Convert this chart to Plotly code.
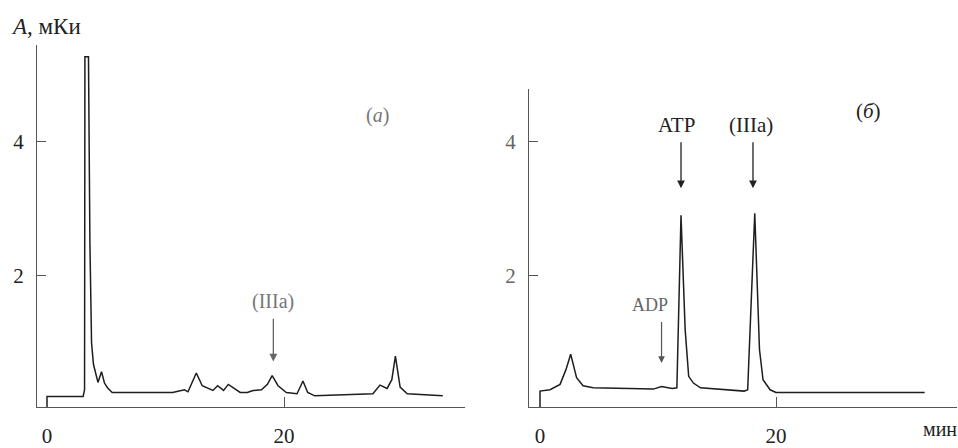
import plotly.graph_objects as go

# ---- data ----
# Panel (а): time, min / activity, mCi
t_a = [0, 0, 3.05, 3.17, 3.2, 3.5, 3.62, 3.76, 3.92, 4.3, 4.6, 4.85, 5.1, 5.5,
       10.6, 11.0, 11.6, 11.9, 12.6, 13.1, 13.5, 14.0, 14.4, 14.9, 15.3, 16.3,
       16.9, 17.4, 18.1, 18.6, 19.0, 19.5, 20.2, 21.1, 21.6, 22.0, 22.6, 27.5,
       28.1, 28.7, 29.1, 29.4, 29.8, 30.4, 33.4]
v_a = [0.04, 0.2, 0.2, 0.3, 5.26, 5.26, 2.5, 1.0, 0.68, 0.41, 0.57, 0.4, 0.33, 0.26,
       0.26, 0.28, 0.3, 0.27, 0.55, 0.36, 0.33, 0.29, 0.36, 0.29, 0.38, 0.26,
       0.26, 0.29, 0.3, 0.38, 0.51, 0.36, 0.26, 0.24, 0.43, 0.26, 0.21, 0.24,
       0.37, 0.32, 0.45, 0.8, 0.34, 0.24, 0.21]

# Panel (б)
t_b = [0, 0, 0.85, 1.7, 2.2, 2.6, 3.1, 3.65, 4.5, 7.6, 9.6, 10.3, 11.2, 11.6,
       11.95, 12.3, 12.6, 13.0, 13.6, 17.3, 17.6, 18.2, 18.6, 18.9, 19.5, 20.0, 32.6]
v_b = [0.04, 0.28, 0.3, 0.38, 0.6, 0.83, 0.48, 0.36, 0.33, 0.32, 0.31, 0.35, 0.32, 0.33,
       2.9, 1.2, 0.5, 0.4, 0.33, 0.28, 0.3, 2.93, 0.9, 0.45, 0.3, 0.26, 0.26]

x_ticks = [0, 20]
x_ticklabels = ["0", "20"]
y_ticks = [2, 4]
y_ticklabels = ["2", "4"]

# annotations: (label, x, y) and arrows (x, y_tail, y_head)
a_label = ("(IIIa)", 19.1, 1.62)
a_arrow = (19.1, 1.38, 0.72)
b_labels = [("ATP", 11.6, 4.25), ("(IIIa)", 17.9, 4.25)]
b_arrows = [(11.95, 4.01, 3.3), (18.05, 4.01, 3.3)]
adp_label = ("ADP", 9.3, 1.57)
adp_arrow = (10.3, 1.33, 0.70)

FONT = "Liberation Serif"
W, H = 958, 448
LINE = "#1e1e1e"

fig = go.Figure()
fig.add_trace(go.Scatter(x=t_a, y=v_a, mode="lines", line=dict(color=LINE, width=1.5),
                         xaxis="x", yaxis="y", showlegend=False))
fig.add_trace(go.Scatter(x=t_b, y=v_b, mode="lines", line=dict(color=LINE, width=1.5),
                         xaxis="x2", yaxis="y2", showlegend=False))

top_px, bot_px = 45, 417
plot_h = bot_px - top_px
px_per_unit = 69.0
y0 = 3 / px_per_unit

common_x = dict(tickvals=x_ticks, ticktext=x_ticklabels, ticks="inside", ticklen=10,
                tickcolor="#555", showline=True, linecolor="#555", linewidth=1.3,
                showgrid=False, zeroline=False, ticklabelstandoff=10,
                tickfont=dict(family=FONT, size=21, color="#222"))
common_y = dict(tickvals=y_ticks, ticktext=y_ticklabels, ticks="inside", ticklen=9,
                tickcolor="#555", showline=True, linecolor="#555", linewidth=1.3,
                showgrid=False, zeroline=False, ticklabelstandoff=8,
                tickfont=dict(family=FONT, size=21, color="#222"))

fig.update_layout(
    width=W, height=H, plot_bgcolor="white", paper_bgcolor="white",
    margin=dict(l=0, r=0, t=top_px, b=H - bot_px),
    xaxis=dict(domain=[37 / W, 465 / W], range=[(37 - 47) / 11.85, (465 - 47) / 11.85],
               anchor="y", **common_x),
    yaxis=dict(domain=[0, 1], range=[y0, y0 + plot_h / px_per_unit], anchor="x", **common_y),
    xaxis2=dict(domain=[529 / W, 957 / W], range=[(529 - 540) / 11.8, (957 - 540) / 11.8],
                anchor="y2", **common_x),
    yaxis2=dict(domain=[0, (bot_px - 90) / plot_h], range=[y0, y0 + (bot_px - 90) / px_per_unit],
                anchor="x2", **{**common_y, "tickfont": dict(family=FONT, size=21, color="#666")}),
)

anns = []
# left panel
anns.append(dict(x=a_label[1], y=a_label[2], xref="x", yref="y", text=a_label[0],
                 showarrow=False, font=dict(family=FONT, size=20, color="#777")))
anns.append(dict(x=a_arrow[0], y=a_arrow[2], ax=a_arrow[0], ay=a_arrow[1], xref="x", yref="y",
                 axref="x", ayref="y", text="", showarrow=True, arrowhead=2, arrowsize=1.2,
                 arrowwidth=1.3, arrowcolor="#666"))
anns.append(dict(x=27.9, y=4.39, xref="x", yref="y", text="(<i>а</i>)", showarrow=False,
                 font=dict(family=FONT, size=20, color="#777")))
# right panel
for lab, x, y in b_labels:
    anns.append(dict(x=x, y=y, xref="x2", yref="y2", text=lab, showarrow=False,
                     font=dict(family=FONT, size=21, color="#222")))
for x, yt, yh in b_arrows:
    anns.append(dict(x=x, y=yh, ax=x, ay=yt, xref="x2", yref="y2", axref="x2", ayref="y2",
                     text="", showarrow=True, arrowhead=2, arrowsize=1.2, arrowwidth=1.3,
                     arrowcolor="#222"))
anns.append(dict(x=adp_label[1], y=adp_label[2], xref="x2", yref="y2", text=adp_label[0],
                 showarrow=False, font=dict(family=FONT, size=18, color="#666")))
anns.append(dict(x=adp_arrow[0], y=adp_arrow[2], ax=adp_arrow[0], ay=adp_arrow[1], xref="x2",
                 yref="y2", axref="x2", ayref="y2", text="", showarrow=True, arrowhead=2,
                 arrowsize=1.1, arrowwidth=1.2, arrowcolor="#555"))
anns.append(dict(x=27.8, y=4.45, xref="x2", yref="y2", text="(<i>б</i>)", showarrow=False,
                 font=dict(family=FONT, size=21, color="#222")))
# axis titles
anns.append(dict(x=9 / W, y=1 + (45 - 26) / plot_h, xref="paper", yref="paper",
                 text="<i>A</i>, мКи", showarrow=False, xanchor="left", yanchor="middle",
                 font=dict(family=FONT, size=23, color="#222")))
anns.append(dict(x=940 / W, y=-(440 - bot_px) / plot_h, xref="paper", yref="paper",
                 text="мин", showarrow=False, xanchor="center", yanchor="middle",
                 font=dict(family=FONT, size=20, color="#222")))
fig.update_layout(annotations=anns)

fig.write_html("out.html", config={"displayModeBar": False},
               post_script="document.body.style.margin='0px';")
